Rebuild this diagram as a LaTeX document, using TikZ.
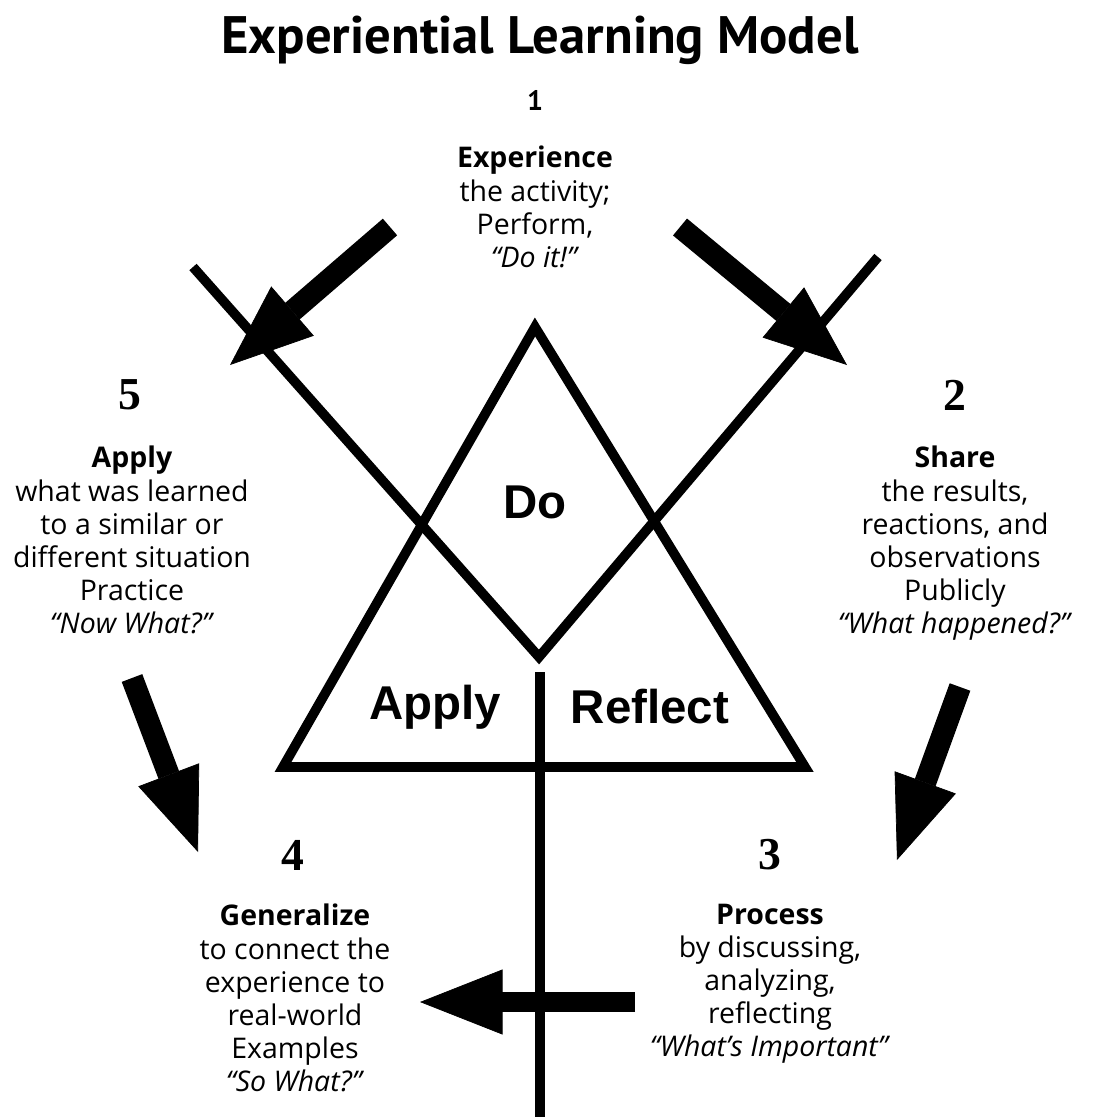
\documentclass[tikz,border=0pt]{standalone}
\usepackage{fontspec}
\setmainfont{Open Sans}
\newfontfamily\titlefont{PT Sans}
\newfontfamily\numfont{Liberation Serif}
\newfontfamily\helv{Liberation Sans}
\usetikzlibrary{arrows.meta}

\tikzset{
  bar/.style={line width=5.5pt, line join=miter},
  bigarrow/.style={line width=12.5pt, -{Triangle[length=47pt,width=37pt,line width=0.4pt]}},
  stage/.style={align=center, anchor=north, inner sep=0pt, font=\fontsize{16.2}{18.8}\selectfont},
  stagenum/.style={font=\numfont\bfseries\fontsize{26}{26}\selectfont},
  part/.style={font=\helv\bfseries\fontsize{27}{27}\selectfont},
}

\begin{document}
\begin{tikzpicture}[x=0.02cm, y=-0.02cm]
\useasboundingbox (0,0) rectangle (1097,1117);

\node[font=\titlefont\bfseries\fontsize{30}{30}\selectfont] (title) at (540,40) {Experiential Learning Model};

% triangle, the X and the stem
\coordinate (top) at (535,327);
\coordinate (bl) at (283,767);
\coordinate (br) at (805,767);
\coordinate (xl) at (193,267);
\coordinate (xr) at (878,257);
\coordinate (v) at (539,657);
\coordinate (stemtop) at (540,672);
\coordinate (stembot) at (540,1125);
\draw[bar] (top) -- (bl) -- (br) -- cycle;
\draw[bar] (xl) -- (v) -- (xr);
\draw[bar] (stemtop) -- (stembot);

\node[part] (do) at (535,502) {Do};
\node[part] (apply) at (435,707) {Apply};
\node[part] (reflect) at (650,707) {Reflect};

% stage numbers
\node[font=\titlefont\bfseries\fontsize{16}{16}\selectfont] (n1) at (535,100) {1};
\node[stagenum] (n2) at (955,395) {2};
\node[stagenum] (n3) at (770,855) {3};
\node[stagenum] (n4) at (293,855) {4};
\node[stagenum] (n5) at (130,395) {5};

% stage texts
\node[stage] (s1) at (535,146) {\textbf{Experience}\\ the activity;\\ Perform,\\ \textit{“Do it!”}};
\node[stage] (s2) at (955,446) {\textbf{Share}\\ the results,\\ reactions, and\\ observations\\ Publicly\\ \textit{“What happened?”}};
\node[stage] (s3) at (770,904) {\textbf{Process}\\ by discussing,\\ analyzing,\\ reflecting\\ \textit{“What’s Important”}};
\node[stage] (s4) at (295,904) {\textbf{Generalize}\\ to connect the\\ experience to\\ real-world\\ Examples\\ \textit{“So What?”}};
\node[stage] (s5) at (132,446) {\textbf{Apply}\\ what was learned\\ to a similar or\\ different situation\\ Practice\\ \textit{“Now What?”}};

% the big arrows
\coordinate (t12) at (680,227);
\coordinate (h12) at (847,365);
\coordinate (t23) at (960,687);
\coordinate (h23) at (897,860);
\coordinate (t34) at (635,1002);
\coordinate (h34) at (420,1002);
\coordinate (t54) at (132,678);
\coordinate (h54) at (198,852);
\coordinate (t15) at (390,227);
\coordinate (h15) at (230,365);
\draw[bigarrow] (t12) -- (h12);
\draw[bigarrow] (t23) -- (h23);
\draw[bigarrow, line width=11pt] (t34) -- (h34);
\draw[bigarrow] (t54) -- (h54);
\draw[bigarrow] (t15) -- (h15);
\end{tikzpicture}
\end{document}
